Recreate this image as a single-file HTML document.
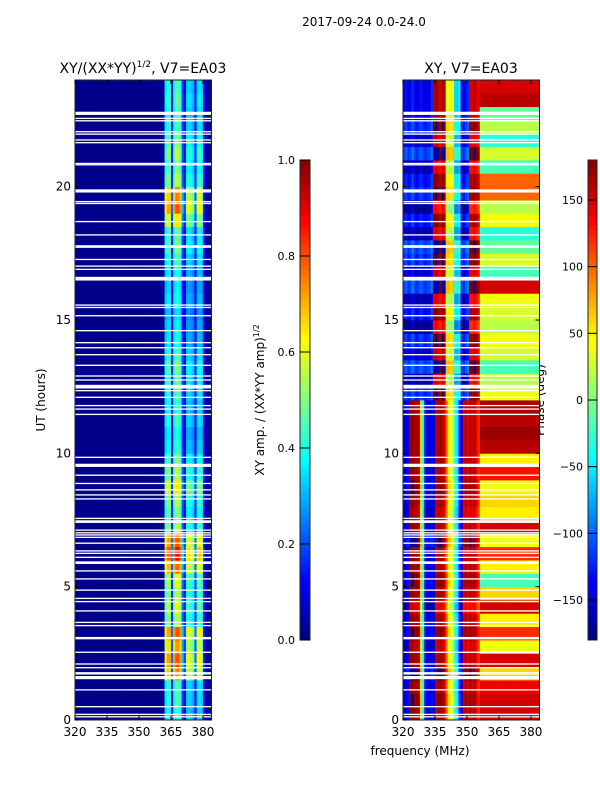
<!DOCTYPE html>
<html><head><meta charset="utf-8"><style>
body{margin:0;background:#fff;}
svg{display:block;font-family:"DejaVu Sans","Liberation Sans",sans-serif;}
</style></head><body>
<svg id="fig" width="600" height="800" xmlns="http://www.w3.org/2000/svg">
<rect width="600" height="800" fill="#fff"/>
<text x="364" y="26" font-size="12" text-anchor="middle">2017-09-24 0.0-24.0</text>
<text x="143" y="73" font-size="14" text-anchor="middle">XY/(XX*YY)<tspan font-size="9" dy="-6">1/2</tspan><tspan dy="6">, V7=EA03</tspan></text>
<text x="471" y="73" font-size="14" text-anchor="middle">XY, V7=EA03</text>
<text transform="translate(45,400) rotate(-90)" font-size="12" text-anchor="middle">UT (hours)</text>
<text x="420" y="755" font-size="12" text-anchor="middle">frequency (MHz)</text>
<text transform="translate(264,400) rotate(-90)" font-size="12" text-anchor="middle">XY amp. / (XX*YY amp)<tspan font-size="8" dy="-5">1/2</tspan></text>
<text transform="translate(544,400) rotate(-90)" font-size="12" text-anchor="middle">Phase (deg)</text>
<g id="L"></g><g id="R"></g><g id="CB"></g>
</svg>
<script>
// ---- data ----
const freqStart = 320, freqEnd = 384, chanWidth = 1;
const timeRowHours = 0.25;
const xTicks = [320, 335, 350, 365, 380];
const yTicks = [0, 5, 10, 15, 20];
const ampTicks = [0.0, 0.2, 0.4, 0.6, 0.8, 1.0];
const phaseTicks = [-150, -100, -50, 0, 50, 100, 150];
// amplitude channel profile (320..383 MHz)
const colAmp = [0.01,0.01,0.01,0.01,0.01,0.01,0.01,0.01,0.01,0.01,0.01,0.01,0.01,0.01,0.01,0.01,
0.01,0.01,0.01,0.01,0.01,0.01,0.01,0.01,0.01,0.01,0.01,0.01,0.01,0.01,0.01,0.01,
0.01,0.01,0.01,0.01,0.01,0.01,0.01,0.01,0.02,0.03,0.4,0.45,0.45,0.15,0.45,0.5,
0.5,0.45,0.2,0.12,0.35,0.38,0.36,0.32,0.15,0.38,0.4,0.36,0.1,0.03,0.02,0.02];
// amplitude row factor per 0.5 h (0..24)
const rowAmp = [0.85,0.9,0.9,1.5,1.6,1.45,1.6,1.1,1.2,1.1,1.2,1.55,1.75,1.6,1.1,1.0,1.1,1.3,1.1,1.0,
0.85,0.8,0.9,0.85,0.9,0.95,1.0,0.9,0.8,0.75,0.7,0.8,0.75,0.8,0.9,1.0,0.95,1.3,1.6,1.5,
1.1,1.0,1.1,1.0,0.9,0.9,0.95,0.9];
// phase channel profiles (deg), lower (<12h) and upper half
const colPhaseLow = [-150,-150,-140,170,175,165,170,160,60,-40,-150,-145,-150,-140,-150,160,
165,170,160,150,100,50,40,30,-40,-50,-130,-140,150,160,150,165,150,160,140,120];
const colPhaseHigh = [-140,-130,-150,-140,-120,-140,-150,-140,-130,-140,-150,-140,-140,-120,160,170,
160,150,170,160,40,40,30,40,-60,-60,-50,-140,-150,-130,-120,150,150,160,150,140];
// phase above ~356 MHz per 0.5 h
const rowHigh = [150,150,140,60,150,40,120,50,150,60,-20,50,120,40,150,50,60,40,130,50,
160,170,160,165,40,20,-20,30,40,20,30,40,150,-20,30,-10,-30,40,20,100,
100,-20,30,-30,20,-10,160,150];
// phase row offset per 0.5 h
const rowShift = [0,10,0,20,0,-10,10,0,-20,0,10,0,0,20,0,-10,0,10,0,0,
0,0,0,0,20,-20,30,-10,20,-30,10,-20,30,-10,20,30,-20,10,-30,20,
10,-20,30,-10,20,0,0,0];
// white gaps (flagged rows): time (h), width (h)
const gapT = [22.75,22.56,22.47,22.06,21.97,21.75,21.65,20.87,20.82,19.84,19.44,19.37,18.69,18.19,17.78,17.73,17.27,17.02,16.9,16.55,
15.56,15.47,15.16,14.6,14.15,13.96,13.7,13.3,12.9,12.75,12.5,12.35,12.1,11.79,11.66,11.46,9.85,9.55,9.18,8.87,
8.63,8.44,8.29,7.56,7.44,7.12,7.02,6.94,6.85,6.63,6.34,6.25,6.1,5.9,5.59,5.29,4.87,4.56,4.44,4.09,
3.66,3.54,3.09,3.05,2.54,2.1,1.96,1.77,1.73,1.59,1.13,0.5,0.21,0.12];
const gapW = [0.12,0.05,0.05,0.05,0.05,0.05,0.05,0.05,0.05,0.12,0.05,0.05,0.05,0.05,0.05,0.05,0.05,0.05,0.05,0.14,
0.05,0.05,0.05,0.05,0.05,0.05,0.05,0.05,0.05,0.05,0.14,0.05,0.05,0.05,0.05,0.05,0.05,0.12,0.05,0.05,
0.05,0.05,0.05,0.05,0.1,0.05,0.05,0.05,0.05,0.05,0.05,0.05,0.05,0.1,0.05,0.05,0.05,0.05,0.05,0.05,
0.05,0.05,0.05,0.05,0.05,0.05,0.05,0.05,0.05,0.12,0.05,0.05,0.05,0.05];

// ---- helpers ----
const NS = "http://www.w3.org/2000/svg";
function mk(tag, attrs, parent){const e=document.createElementNS(NS,tag);for(const k in attrs)e.setAttribute(k,attrs[k]);parent.appendChild(e);return e;}
function cl(v){return Math.max(0,Math.min(1,v));}
function jet(v){v=cl(v);const r=cl(1.5-Math.abs(4*v-3)),g=cl(1.5-Math.abs(4*v-2)),b=cl(1.5-Math.abs(4*v-1));
return "rgb("+Math.round(r*255)+","+Math.round(g*255)+","+Math.round(b*255)+")";}
function wrap(p){while(p>180)p-=360;while(p<-180)p+=360;return p;}
const PY0=80, PY1=720, PW=136.5;
function yScale(t){return PY1-(t/24)*(PY1-PY0);}
function xScale(x0,f){return x0+(f-freqStart)/(freqEnd-freqStart)*PW;}

function panel(g, x0, valFn, nameBase){
  const nCols=(freqEnd-freqStart)/chanWidth, nRows=24/timeRowHours;
  for(let c=0;c<nCols;c++){
    const f=freqStart+c*chanWidth;
    for(let r=0;r<nRows;r++){
      const t=r*timeRowHours;
      const e=mk("rect",{x:xScale(x0,f).toFixed(2),y:yScale(t+timeRowHours).toFixed(2),
        width:(xScale(x0,f+chanWidth)-xScale(x0,f)+0.4).toFixed(2),height:(yScale(t)-yScale(t+timeRowHours)+0.4).toFixed(2),fill:valFn(c,r,t)},g);
      
      
    }
  }
  for(let i=0;i<gapT.length;i++){
    const e=mk("rect",{x:x0,y:yScale(gapT[i]+gapW[i]/2),width:PW,height:(gapW[i]/24*640),fill:"#fff"},g);
    
    
  }
  const fr=mk("rect",{x:x0,y:PY0,width:PW,height:PY1-PY0,fill:"none",stroke:"#222","stroke-width":1},g);
  
  
  xTicks.forEach(v=>{const x=xScale(x0,v);
    mk("line",{x1:x,x2:x,y1:PY1,y2:PY1-4,stroke:"#000"},g);mk("line",{x1:x,x2:x,y1:PY0,y2:PY0+4,stroke:"#000"},g);
    const t=mk("text",{x:x,y:PY1+16,"font-size":12,"text-anchor":"middle"},g);t.textContent=v;
    
    });
  yTicks.forEach(v=>{const y=yScale(v);
    mk("line",{x1:x0,x2:x0+4,y1:y,y2:y,stroke:"#000"},g);mk("line",{x1:x0+PW,x2:x0+PW-4,y1:y,y2:y,stroke:"#000"},g);
    const t=mk("text",{x:x0-4,y:y+4,"font-size":12,"text-anchor":"end"},g);t.textContent=v;
    
    });
}
panel(document.getElementById("L"),75,(c,r)=>{
  const k=Math.min(rowAmp.length-1,Math.floor(r*timeRowHours/0.5));
  const base=colAmp[c];
  const v= base>0.08 ? base*rowAmp[k] : base;
  return jet(v);
},"amplitude");
panel(document.getElementById("R"),403,(c,r,t)=>{
  const k=Math.min(rowHigh.length-1,Math.floor(t/0.5));
  let p;
  if(c>=36) p=rowHigh[k];
  else if(t<12) p=colPhaseLow[c]+rowShift[k];
  else p=colPhaseHigh[c]+rowShift[k];
  return jet((wrap(p)+180)/360);
},"phase");

// colorbars
const cb=document.getElementById("CB");
function colorbar(x,w,min,max,ticks,fmt,name){
  const n=96;
  for(let i=0;i<n;i++){
    const e=mk("rect",{x:x,y:(640-(i+1)*480/n).toFixed(2),width:w,height:(480/n+0.5).toFixed(2),fill:jet((i+0.5)/n)},cb);
    
    
  }
  const f=mk("rect",{x:x,y:160,width:w,height:480,fill:"none",stroke:"#222"},cb);
  
  
  ticks.forEach(v=>{const y=640-(v-min)/(max-min)*480;
    mk("line",{x1:x,x2:x+w,y1:y,y2:y,stroke:"#000","stroke-width":1},cb);
    const t=mk("text",{x:x-5,y:y+4,"font-size":11,"text-anchor":"end"},cb);t.textContent=fmt(v);
    
    });
}
colorbar(300,10,0,1,ampTicks,v=>v.toFixed(1),"amp-colorbar");
colorbar(588,9,-180,180,phaseTicks,v=>v<0?"\u2212"+(-v):String(v),"phase-colorbar");
</script>
</body></html>
